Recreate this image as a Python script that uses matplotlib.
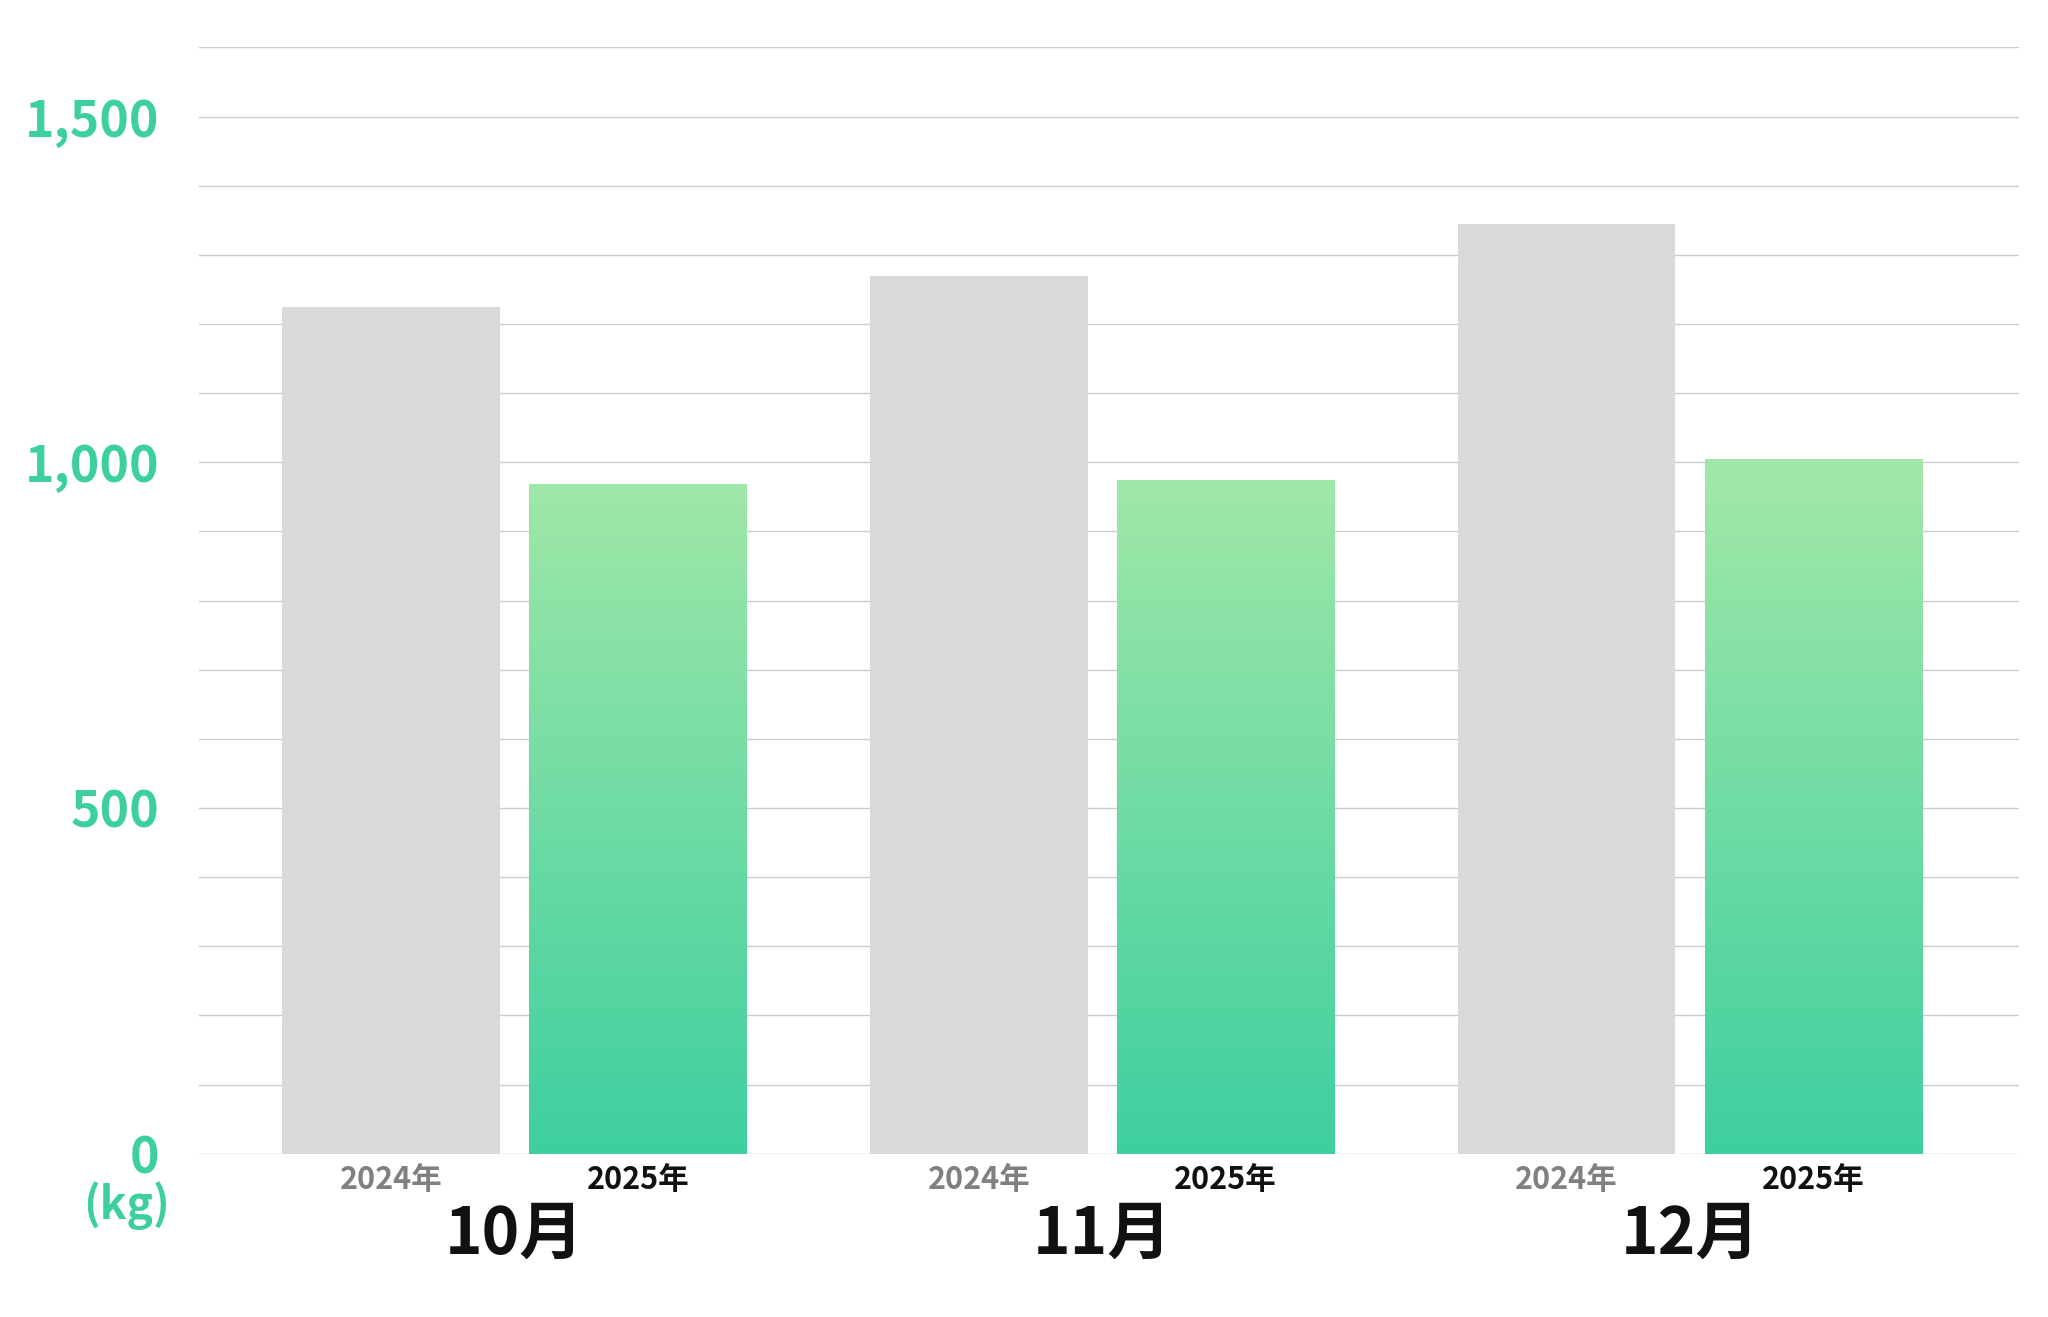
import numpy as np
import matplotlib
matplotlib.use('Agg')
import matplotlib.pyplot as plt
from matplotlib.colors import LinearSegmentedColormap

plt.rcParams['font.family'] = ['Noto Sans CJK JP', 'DejaVu Sans']

### DATA
months = ['10月', '11月', '12月']
years = ['2024年', '2025年']
values_2024 = [1224, 1269, 1344]
values_2025 = [968, 975, 1005]

green = '#3ecfa0'
grad = LinearSegmentedColormap.from_list('g', ['#3ecfa0', '#a3e8a8'])

fig = plt.figure(figsize=(20.48, 13.17), dpi=100)
ax = fig.add_axes([0.097, 0.124, 0.889, 0.84])

x = np.arange(len(months))
off = 0.21
w = 0.37

ax.bar(x - off, values_2024, width=w, color='#d9d9d9', zorder=2)
bars = ax.bar(x + off, values_2025, width=w, color='none', zorder=2)
ramp = np.linspace(0, 1, 256).reshape(-1, 1)
for b in bars:
    x0 = b.get_x()
    im = ax.imshow(ramp, cmap=grad, origin='lower', aspect='auto',
                   extent=[x0, x0 + w, 0, 1600 * 0.63], zorder=2)
    im.set_clip_path(b)

ax.set_xlim(-0.537, 2.56)
ax.set_ylim(0, 1600)
ax.set_yticks([0, 500, 1000, 1500])
ax.set_yticks(np.arange(0, 1601, 100), minor=True)
ax.yaxis.grid(True, which='both', color='#cccccc', linewidth=1.0, zorder=0)
ax.set_yticklabels(['0', '500', '1,000', '1,500'], color=green, fontsize=36,
                   fontweight='bold')
ax.tick_params(axis='y', which='both', length=0, pad=28)
ax.set_xticks([])
for s in ax.spines.values():
    s.set_visible(False)

for i in range(len(months)):
    ax.text(x[i] - off, -15, years[0], ha='center', va='top', fontsize=22,
            color='#808080', fontweight='bold')
    ax.text(x[i] + off, -15, years[1], ha='center', va='top', fontsize=22,
            color='#111111', fontweight='bold')
    ax.text(x[i], -70, months[i], ha='center', va='top', fontsize=46,
            color='#111111', fontweight='bold')

ax.text(-0.66, -40, '(kg)', ha='center', va='top', fontsize=32, color=green,
        fontweight='bold')

fig.savefig('out.png', dpi=100)
